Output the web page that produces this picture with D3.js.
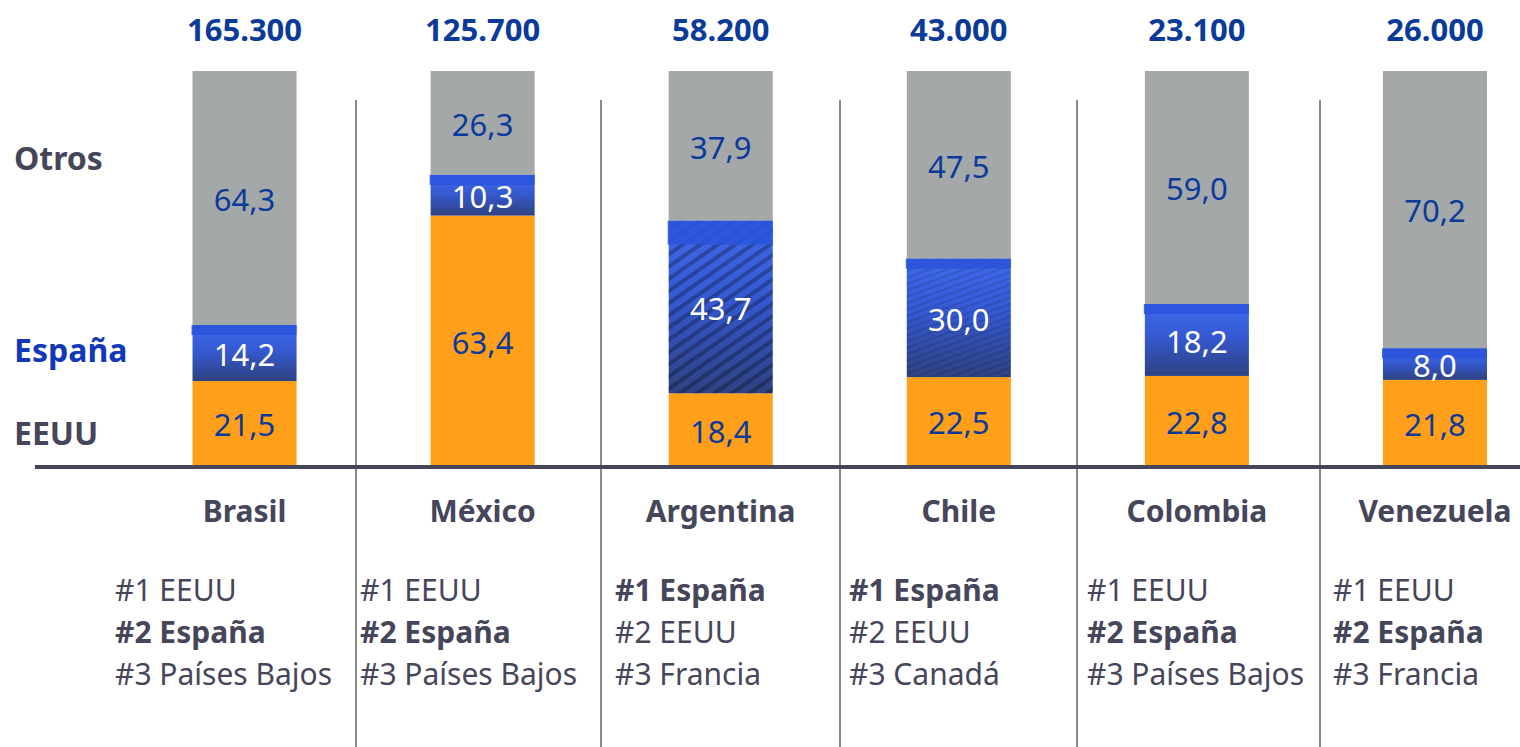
<!DOCTYPE html>
<html>
<head>
  <meta charset="UTF-8">
  <style>
    body { margin: 0; background: #fff; }
    svg { display: block; }
    text { font-family: "Noto Sans", "Open Sans", sans-serif; }
  </style>
</head>
<body>
  <svg width="1520" height="747"></svg>
  <script src="https://cdn.jsdelivr.net/npm/d3@7"></script>
  <script>
    // datos: cuota (%) de cada socio en cada país y total
    const countries = ['Brasil', 'México', 'Argentina', 'Chile', 'Colombia', 'Venezuela'];
    const totals = [165300, 125700, 58200, 43000, 23100, 26000];
    const eeuu = [21.5, 63.4, 18.4, 22.5, 22.8, 21.8];
    const espana = [14.2, 10.3, 43.7, 30.0, 18.2, 8.0];
    const otros = [64.3, 26.3, 37.9, 47.5, 59.0, 70.2];
    const rankings = [
      ['#1 EEUU', '#2 España', '#3 Países Bajos'],
      ['#1 EEUU', '#2 España', '#3 Países Bajos'],
      ['#1 España', '#2 EEUU', '#3 Francia'],
      ['#1 España', '#2 EEUU', '#3 Canadá'],
      ['#1 EEUU', '#2 España', '#3 Países Bajos'],
      ['#1 EEUU', '#2 España', '#3 Francia']
    ];
    const seriesNames = ['EEUU', 'España', 'Otros'];

    // maquetación
    const sepX = [356, 601, 840, 1077, 1320];
    const rankLeft = [115, 360, 615, 849, 1087, 1333];

    const svg = d3.select('svg');
    const dark = '#46465a';
    const navy = '#0a3a9a';

    const x = d3.scaleBand().domain(countries).range([125.5, 1554]).paddingInner(0.563).paddingOuter(0.2815);
    const y = d3.scaleLinear().domain([0, 100]).range([466, 71]);

    const es = d3.formatLocale({ decimal: ',', thousands: '.', grouping: [3], currency: ['', ''] });
    const fmtTotal = es.format(',.0f');
    const fmtVal = es.format('.1f');

    // degradado y tramado para España
    const defs = svg.append('defs');
    const grad = defs.append('linearGradient').attr('id', 'gEsp').attr('x1', 0).attr('y1', 0).attr('x2', 0).attr('y2', 1);
    grad.append('stop').attr('offset', '0%').attr('stop-color', '#3f6aec');
    grad.append('stop').attr('offset', '45%').attr('stop-color', '#3459d2');
    grad.append('stop').attr('offset', '100%').attr('stop-color', '#2f4280');
    const hatch = defs.append('pattern').attr('id', 'hatch').attr('width', 10).attr('height', 10)
      .attr('patternUnits', 'userSpaceOnUse').attr('patternTransform', 'rotate(-35)');
    hatch.append('rect').attr('width', 10).attr('height', 4).attr('fill', '#000').attr('opacity', 0.28);
    const hatchLight = defs.append('pattern').attr('id', 'hatchL').attr('width', 8).attr('height', 6)
      .attr('patternUnits', 'userSpaceOnUse').attr('patternTransform', 'rotate(-20)');
    hatchLight.append('rect').attr('width', 8).attr('height', 2).attr('fill', '#000').attr('opacity', 0.12);

    const rows = countries.map((c, i) => ({ country: c, EEUU: eeuu[i], 'España': espana[i], Otros: otros[i] }));
    const stacked = d3.stack().keys(seriesNames)(rows);
    const fills = { EEUU: '#ff9f1a', 'España': 'url(#gEsp)', Otros: '#a5a8a9' };
    const segs = stacked.flatMap(s => s.map(p => ({ key: s.key, p })));

    // separadores
    svg.append('g').selectAll('line').data(sepX).join('line')
      .attr('x1', d => d).attr('x2', d => d).attr('y1', 100).attr('y2', 747)
      .attr('stroke', '#8a8a8a').attr('stroke-width', 2);

    // barras
    svg.append('g').selectAll('rect').data(segs).join('rect')
      .attr('x', d => x(d.p.data.country))
      .attr('width', x.bandwidth())
      .attr('y', d => y(d.p[1]))
      .attr('height', d => y(d.p[0]) - y(d.p[1]))
      .attr('fill', d => fills[d.key]);

    // detalles de España: tramado y franja superior
    const espLayer = stacked.find(s => s.key === 'España');
    svg.append('g').selectAll('rect').data(espLayer.filter(p => p.data.country === 'Argentina' || p.data.country === 'Chile')).join('rect')
      .attr('x', p => x(p.data.country))
      .attr('width', x.bandwidth())
      .attr('y', p => y(p[1]))
      .attr('height', p => y(p[0]) - y(p[1]))
      .attr('fill', p => p.data.country === 'Argentina' ? 'url(#hatch)' : 'url(#hatchL)');
    svg.append('g').selectAll('rect').data(espLayer).join('rect')
      .attr('x', p => x(p.data.country) - 1)
      .attr('width', x.bandwidth() + 1)
      .attr('y', p => y(p[1]))
      .attr('height', p => p.data.country === 'Argentina' ? 24 : 10)
      .attr('fill', '#2a54dc')
      .attr('opacity', 0.85);

    // valores dentro de las barras
    svg.append('g').selectAll('text').data(segs).join('text')
      .attr('x', d => x(d.p.data.country) + x.bandwidth() / 2)
      .attr('y', d => (y(d.p[0]) + y(d.p[1])) / 2 + 2)
      .attr('dy', '0.35em')
      .attr('text-anchor', 'middle')
      .attr('font-size', 31)
      .attr('fill', d => d.key === 'España' ? '#fff' : navy)
      .text(d => fmtVal(d.p[1] - d.p[0]));

    // línea base
    svg.append('line').attr('x1', 35).attr('x2', 1520).attr('y1', 467).attr('y2', 467)
      .attr('stroke', dark).attr('stroke-width', 4);

    // totales
    svg.append('g').selectAll('text').data(countries).join('text')
      .attr('x', c => x(c) + x.bandwidth() / 2)
      .attr('y', 41)
      .attr('text-anchor', 'middle')
      .attr('font-size', 31).attr('font-weight', 'bold').attr('fill', navy)
      .text((c, i) => fmtTotal(totals[i]));

    // nombres de países
    svg.append('g').selectAll('text').data(countries).join('text')
      .attr('x', c => x(c) + x.bandwidth() / 2)
      .attr('y', 522)
      .attr('text-anchor', 'middle')
      .attr('font-size', 30).attr('font-weight', 'bold').attr('fill', dark)
      .text(c => c);

    // leyenda izquierda
    const legend = [
      { name: 'Otros', y: 170, color: dark },
      { name: 'España', y: 362, color: '#1238b8' },
      { name: 'EEUU', y: 445, color: dark }
    ];
    svg.append('g').selectAll('text').data(legend).join('text')
      .attr('x', 14).attr('y', d => d.y)
      .attr('font-size', 32).attr('font-weight', 'bold').attr('fill', d => d.color)
      .text(d => d.name);

    // rankings
    const rg = svg.append('g').selectAll('g').data(rankings).join('g')
      .attr('transform', (d, i) => `translate(${rankLeft[i]},0)`);
    rg.selectAll('text').data(d => d).join('text')
      .attr('x', 0)
      .attr('y', (d, j) => 601 + j * 42)
      .attr('font-size', 30)
      .attr('fill', dark)
      .attr('font-weight', d => d.includes('España') ? 'bold' : 'normal')
      .text(d => d);
  </script>
</body>
</html>
